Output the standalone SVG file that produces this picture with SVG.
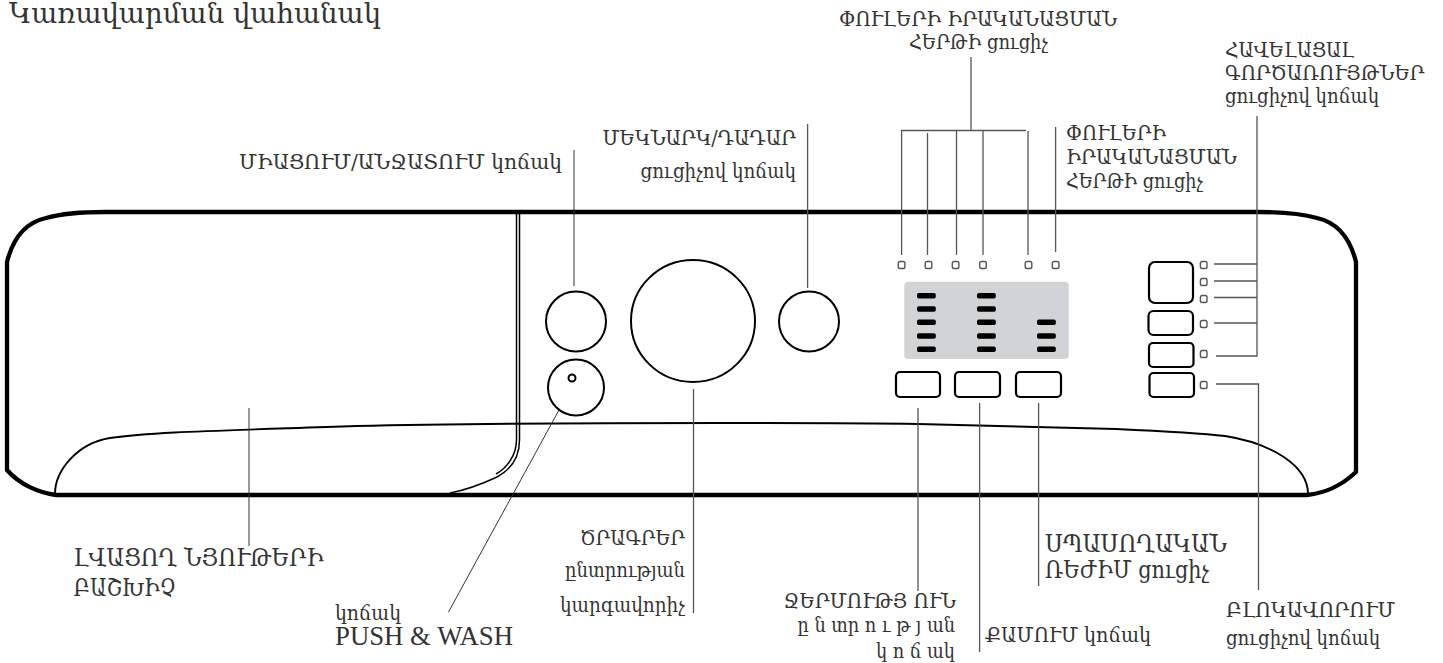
<svg xmlns="http://www.w3.org/2000/svg" width="1443" height="663" viewBox="0 0 1443 663">
<style>
text{font-family:"DejaVu Serif","Liberation Serif",serif;fill:#333;font-size:21px}
.t{font-size:27px}
.s{font-size:19.5px}
.m{font-size:23.5px}
.p{font-family:"Liberation Serif",serif;font-size:26.5px}
.o{fill:none;stroke:#000;stroke-width:4.3;stroke-linejoin:round}
.k{fill:none;stroke:#000;stroke-width:1.9}
.d{fill:none;stroke:#000;stroke-width:1.5}
.b{fill:#fff;stroke:#000;stroke-width:2.2}
.c{fill:none;stroke:#000;stroke-width:2}
.led{fill:#fff;stroke:#555;stroke-width:1.4}
.bar{fill:#000}
.l{fill:none;stroke:#333;stroke-width:1}
.g{fill:none;stroke:#555;stroke-width:1.3}
</style>
<defs>
<rect id="led" class="led" x="-3.3" y="-3.5" width="6.6" height="7" rx="1.8"/>
<rect id="bar" class="bar" width="18.8" height="5.6" rx="1.8"/>
</defs>
<g id="panel">
<path class="o" d="M7 262C14 234 28 222 46 218C64 213 82 212 105 212H1258C1281 212 1299 213 1317 218C1335 222 1349 234 1356 262V472C1340 487 1325 493 1307 495H56C40 493 20 485 7 470Z"/>
<path class="k" d="M55 494C55 470 78 443 110 438C150 432 210 431 356 426C440 424 560 423 720 423C790 423 860 423 918 424L1116 429C1160 431 1199 433 1225 436C1270 443 1308 465 1308 494"/>
<path class="d" d="M519.5 212V440C519.5 458 510 470 497 477C482 484 466 490 450 493"/>
<path class="d" d="M516.5 212V440C516.5 455 507 468 496 474"/>
</g>
<g id="title"><text class="t" x="9" y="22.5" textLength="372" lengthAdjust="spacingAndGlyphs">Կառավարման վահանակ</text></g>
<g id="connectors">
<path class="l" d="M574 150V286"/>
<path class="g" d="M807.6 124V288"/>
<path class="g" d="M971 57V130.5M901.6 255V130.5H1026M927.5 133V255M956.5 130.5V255M983 130.5V255M1028 131V255M1055.6 127V252"/>
<path class="g" d="M1257 116V356H1216M1214 264H1257M1214 281H1257M1214 297.5H1257M1214 323H1257"/>
<path class="g" d="M1216 384H1258.5V590"/>
<path class="g" d="M918 408V591M979.6 403V652M1038.6 403V586"/>
<path class="l" d="M249 408V546"/>
<path class="l" d="M559 410L448.5 612"/>
<path class="g" d="M693.5 389V613"/>
</g>
<g id="btn-power"><ellipse class="c" cx="576" cy="321.5" rx="30" ry="30"/></g>
<g id="btn-push"><ellipse class="c" cx="576" cy="387.5" rx="28" ry="28"/><circle class="c" cx="572" cy="378" r="3.5"/></g>
<g id="dial"><ellipse class="c" cx="693" cy="321" rx="62" ry="61"/></g>
<g id="btn-start"><ellipse class="c" cx="809" cy="321.5" rx="30" ry="30"/></g>
<g id="display">
<rect x="904.3" y="281.7" width="164.4" height="77.3" rx="4" fill="#d1d3d4"/>
<use href="#bar" x="917" y="293"/><use href="#bar" x="917" y="306.2"/><use href="#bar" x="917" y="319.5"/><use href="#bar" x="917" y="333.2"/><use href="#bar" x="917" y="346.5"/>
<use href="#bar" x="977" y="293"/><use href="#bar" x="977" y="306.2"/><use href="#bar" x="977" y="319.5"/><use href="#bar" x="977" y="333.2"/><use href="#bar" x="977" y="346.5"/>
<use href="#bar" x="1037" y="319.5"/><use href="#bar" x="1037" y="333.2"/><use href="#bar" x="1037" y="346.5"/>
</g>
<g id="phase-leds">
<use href="#led" x="901.6" y="265"/><use href="#led" x="928.5" y="265"/><use href="#led" x="955.6" y="265"/><use href="#led" x="983" y="265"/><use href="#led" x="1028.5" y="265"/><use href="#led" x="1055.6" y="265"/>
</g>
<g id="btn-temp"><rect class="b" x="896" y="372" width="44" height="25" rx="4"/></g>
<g id="btn-spin"><rect class="b" x="955" y="372" width="45" height="25" rx="4"/></g>
<g id="btn-standby"><rect class="b" x="1016" y="372" width="45" height="25" rx="4"/></g>
<g id="btn-opt1"><rect class="b" x="1149" y="262" width="44" height="41" rx="6"/><use href="#led" x="1203.7" y="265"/><use href="#led" x="1203.7" y="282"/><use href="#led" x="1203.7" y="299"/></g>
<g id="btn-opt2"><rect class="b" x="1148.5" y="311" width="44.5" height="24" rx="5"/><use href="#led" x="1203.7" y="324"/></g>
<g id="btn-opt3"><rect class="b" x="1149" y="343" width="44.5" height="24" rx="4"/><use href="#led" x="1203.7" y="354"/></g>
<g id="btn-lock"><rect class="b" x="1149.5" y="373" width="44.5" height="24" rx="4"/><use href="#led" x="1203.7" y="385"/></g>
<g id="labels">
<text x="239" y="169" textLength="323" lengthAdjust="spacingAndGlyphs">ՄԻԱՑՈՒՄ/ԱՆՋԱՏՈՒՄ կոճակ</text>
<text x="602.4" y="145" textLength="193.6" lengthAdjust="spacingAndGlyphs">ՄԵԿՆԱՐԿ/ԴԱԴԱՐ</text>
<text x="640.5" y="178" textLength="155.5" lengthAdjust="spacingAndGlyphs">ցուցիչով կոճակ</text>
<text x="839" y="25.7" textLength="278" lengthAdjust="spacingAndGlyphs">ՓՈՒԼԵՐԻ ԻՐԱԿԱՆԱՑՄԱՆ</text>
<text x="909" y="49" textLength="139" lengthAdjust="spacingAndGlyphs">ՀԵՐԹԻ ցուցիչ</text>
<text x="1225" y="56.7" textLength="129" lengthAdjust="spacingAndGlyphs">ՀԱՎԵԼԱՑԱԼ</text>
<text x="1225" y="80" textLength="199.5" lengthAdjust="spacingAndGlyphs">ԳՈՐԾԱՌՈՒՅԹՆԵՐ</text>
<text x="1225" y="102.7" textLength="154" lengthAdjust="spacingAndGlyphs">ցուցիչով կոճակ</text>
<text x="1066" y="140" textLength="100" lengthAdjust="spacingAndGlyphs">ՓՈՒԼԵՐԻ</text>
<text x="1066" y="164" textLength="171" lengthAdjust="spacingAndGlyphs">ԻՐԱԿԱՆԱՑՄԱՆ</text>
<text x="1066" y="188" textLength="137" lengthAdjust="spacingAndGlyphs">ՀԵՐԹԻ ցուցիչ</text>
<text class="m" x="73.5" y="565.7" textLength="250" lengthAdjust="spacingAndGlyphs">ԼՎԱՑՈՂ ՆՅՈՒԹԵՐԻ</text>
<text class="m" x="73.5" y="595.7" textLength="102.5" lengthAdjust="spacingAndGlyphs">ԲԱՇԽԻՉ</text>
<text x="335" y="620" textLength="66" lengthAdjust="spacingAndGlyphs">կոճակ</text>
<text class="p" x="335" y="645" textLength="178" lengthAdjust="spacingAndGlyphs">PUSH &amp; WASH</text>
<text x="580" y="545" textLength="105" lengthAdjust="spacingAndGlyphs">ԾՐԱԳՐԵՐ</text>
<text class="s" x="565" y="577" textLength="120" lengthAdjust="spacingAndGlyphs">ընտրության</text>
<text class="s" x="560" y="611.7" textLength="125" lengthAdjust="spacingAndGlyphs">կարգավորիչ</text>
<text x="783.6" y="608" textLength="172.4" lengthAdjust="spacingAndGlyphs">ՋԵՐՄՈՒԹՅ ՈՒՆ</text>
<text class="s" x="797.5" y="632" textLength="157.5" lengthAdjust="spacingAndGlyphs">ը ն տր ո ւ թ յ ան</text>
<text class="s" x="876" y="658" textLength="79" lengthAdjust="spacingAndGlyphs">կ ո ճ ակ</text>
<text x="985" y="641.7" textLength="166" lengthAdjust="spacingAndGlyphs">ՔԱՄՈՒՄ կոճակ</text>
<text class="m" x="1045" y="551.7" textLength="182" lengthAdjust="spacingAndGlyphs">ՍՊԱՍՈՂԱԿԱՆ</text>
<text class="m" x="1045" y="578" textLength="164" lengthAdjust="spacingAndGlyphs">ՌԵԺԻՄ ցուցիչ</text>
<text x="1226" y="616.7" textLength="169" lengthAdjust="spacingAndGlyphs">ԲԼՈԿԱՎՈՐՈՒՄ</text>
<text x="1226" y="645" textLength="154" lengthAdjust="spacingAndGlyphs">ցուցիչով կոճակ</text>
</g>
</svg>
